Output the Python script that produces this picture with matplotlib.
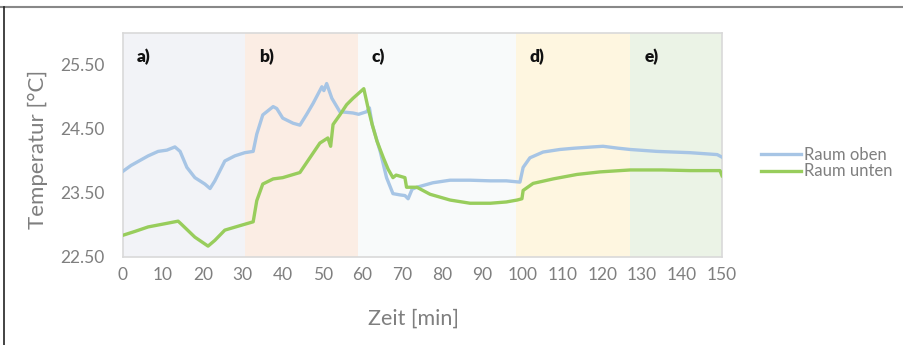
import matplotlib
matplotlib.use("Agg")
import matplotlib.pyplot as plt
from matplotlib.lines import Line2D

# ---- data ----
t_oben = [0, 2, 4, 6.3, 8.8, 11, 13, 14.3, 16, 18, 20.5, 21.8, 23, 25.5, 28, 30.5,
          32.6, 33.5, 35, 37.6, 38.5, 40, 42.6, 44.3, 46, 47.6, 49.8, 50.3, 51, 52.3,
          54.3, 56, 57.6, 59, 61, 61.7, 62.4, 64.4, 66, 67.6, 69.4, 70.6, 71.4, 72.4,
          73.6, 77.6, 81.9, 86.9, 92, 96, 99.4, 100.2, 101.9, 105.2, 109.4, 113,
          117.7, 120.2, 124, 127, 133.7, 142, 148.8, 150]
raum_oben = [23.84, 23.93, 24.00, 24.08, 24.15, 24.17, 24.22, 24.15, 23.90, 23.74,
             23.64, 23.57, 23.69, 24.00, 24.08, 24.13, 24.15, 24.42, 24.72, 24.85,
             24.82, 24.67, 24.59, 24.56, 24.73, 24.90, 25.16, 25.10, 25.21, 24.98,
             24.77, 24.76, 24.75, 24.73, 24.77, 24.83, 24.57, 24.15, 23.74, 23.49,
             23.47, 23.46, 23.41, 23.56, 23.59, 23.66, 23.70, 23.70, 23.69, 23.69,
             23.67, 23.90, 24.05, 24.14, 24.18, 24.20, 24.22, 24.23, 24.20, 24.18,
             24.15, 24.13, 24.10, 24.06]

t_unten = [0, 3, 6.3, 10.5, 13.8, 14.5, 18, 21.3, 23, 25.5, 29.3, 32.6, 33.5, 35,
           37.6, 40, 44.3, 46.8, 49.3, 51.3, 52, 52.6, 54.3, 56, 57.6, 60.3, 61.4,
           62.4, 63.6, 65.2, 66.4, 67.6, 68.4, 70.6, 71, 73.6, 76.9, 81.9, 86.9, 92,
           96, 98.7, 99.9, 100.2, 102.7, 107.7, 113.7, 119.5, 127, 135, 142, 149.5, 150]
raum_unten = [22.84, 22.90, 22.97, 23.02, 23.06, 23.02, 22.81, 22.67, 22.76, 22.92,
              22.99, 23.05, 23.38, 23.64, 23.72, 23.74, 23.82, 24.05, 24.28, 24.36,
              24.23, 24.57, 24.72, 24.88, 24.98, 25.13, 24.82, 24.57, 24.31, 24.05,
              23.87, 23.74, 23.78, 23.74, 23.59, 23.59, 23.48, 23.39, 23.34, 23.34,
              23.36, 23.39, 23.41, 23.54, 23.65, 23.72, 23.79, 23.83, 23.86, 23.86,
              23.85, 23.85, 23.77]

phase_labels = ["a)", "b)", "c)", "d)", "e)"]
phase_bounds = [0, 30.5, 58.8, 98.4, 127, 150]
phase_colors = ["#F2F3F7", "#FBEDE4", "#F8FAFA", "#FEF6E0", "#EBF3E6"]

x_ticks = list(range(0, 151, 10))
y_ticks = [22.5, 23.5, 24.5, 25.5]

FONT = "Lato"
GRAY = "#7F7F7F"

# ---- figure ----
fig = plt.figure(figsize=(9.04, 3.45), dpi=100)
ax = fig.add_axes([123/904, 1-257/345, (722-123)/904, (257-33)/345])

for i, lab in enumerate(phase_labels):
    ax.axvspan(phase_bounds[i], phase_bounds[i+1], color=phase_colors[i], lw=0, zorder=0)
    ax.text(phase_bounds[i] + 3.5, 25.62, lab, fontsize=12.5, fontweight="heavy",
            family=FONT, color="#111111", va="center", ha="left")

ax.plot(t_oben, raum_oben, color="#A7C5E5", lw=2.4, label="Raum oben", zorder=3)
ax.plot(t_unten, raum_unten, color="#98CD5C", lw=2.4, label="Raum unten", zorder=3)

ax.set_xlim(0, 150)
ax.set_ylim(22.5, 26.0)
ax.set_xticks(x_ticks)
ax.set_yticks(y_ticks)
ax.set_yticklabels([f"{v:.2f}" for v in y_ticks])
ax.tick_params(length=0, labelsize=12.5, labelcolor=GRAY)
ax.tick_params(axis="x", pad=7)
ax.tick_params(axis="y", pad=13)
for lab in ax.get_xticklabels() + ax.get_yticklabels():
    lab.set_family(FONT)
for s in ax.spines.values():
    s.set_color("#D9D9D9")
    s.set_linewidth(1.2)

ax.set_xlabel("Zeit [min]", fontsize=15.5, color=GRAY, family=FONT)
ax.xaxis.set_label_coords(0.485, -0.23)
ax.set_ylabel("Temperatur [°C]", fontsize=16, color=GRAY, family=FONT)
ax.yaxis.set_label_coords(-0.125, 0.48)

leg = ax.legend(loc="center left", bbox_to_anchor=(1.04, 0.42), frameon=False,
                prop={"family": FONT, "size": 12}, labelcolor=GRAY,
                handlelength=2.4, handletextpad=0.2, labelspacing=0.05)

# outer frame lines
fig.add_artist(Line2D([0, 1], [1-6.5/345, 1-6.5/345], color="#888888", lw=1.5, transform=fig.transFigure))
fig.add_artist(Line2D([4.5/904, 4.5/904], [0, 1-6.5/345], color="#222222", lw=1.2, transform=fig.transFigure))

fig.savefig("out.png", dpi=100)
